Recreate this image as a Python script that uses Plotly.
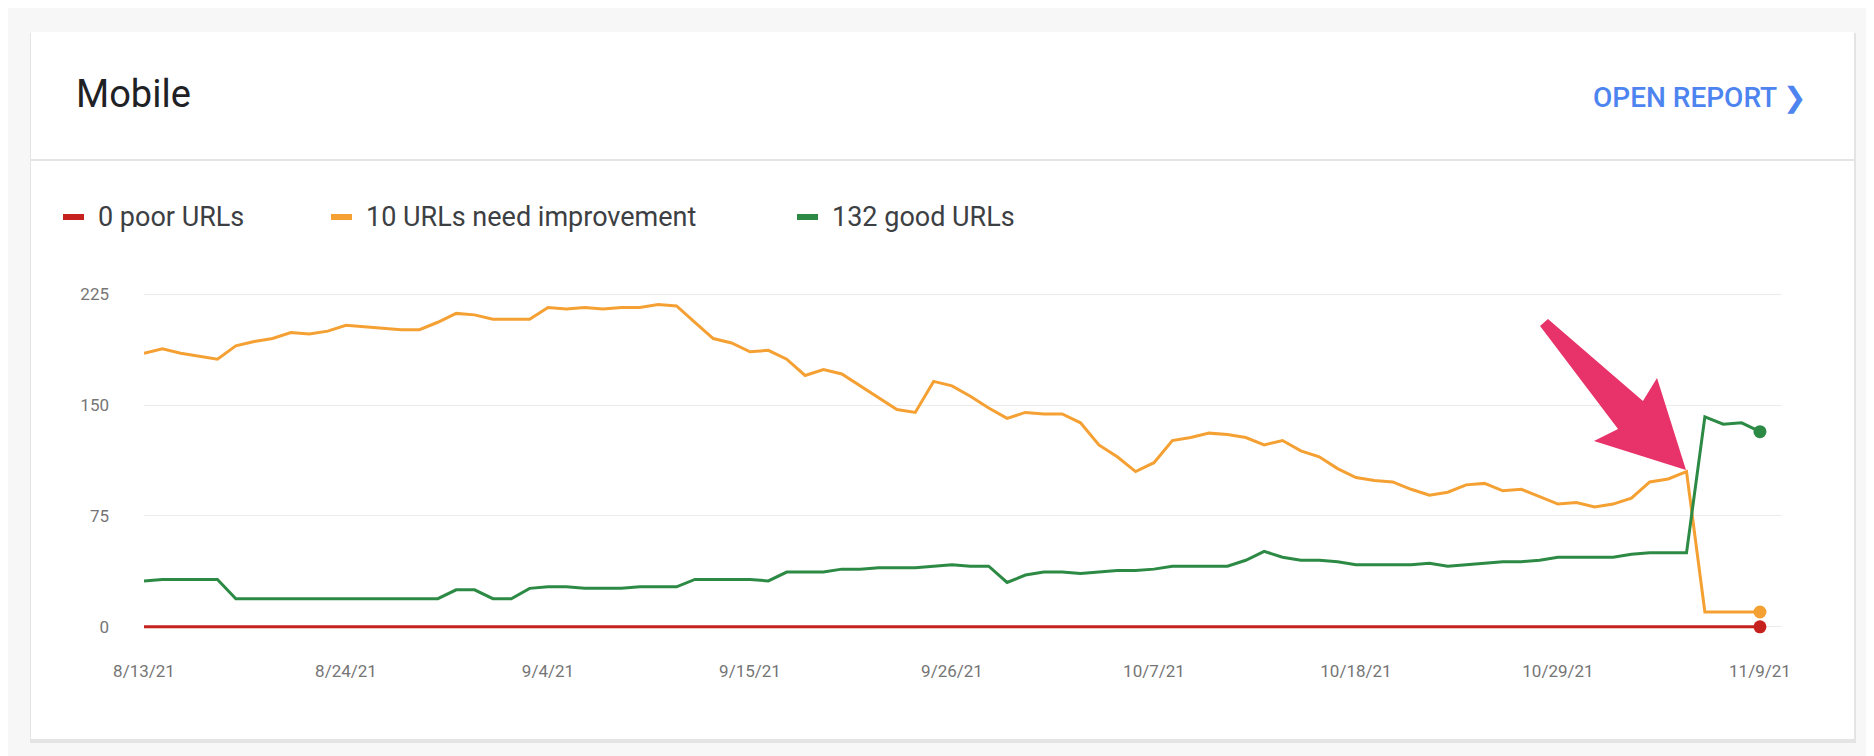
import pandas as pd
import plotly.graph_objects as go

# daily values 8/13/21 .. 11/9/21
dates = pd.date_range("2021-08-13", "2021-11-09", freq="D")

need_improvement = [
    185, 188, 185, 183, 181, 190, 193, 195, 199, 198,
    200, 204, 203, 202, 201, 201, 206, 212, 211, 208,
    208, 208, 216, 215, 216, 215, 216, 216, 218, 217,
    206, 195, 192, 186, 187, 181, 170, 174, 171, 163,
    155, 147, 145, 166, 163, 156, 148, 141, 145, 144,
    144, 138, 123, 115, 105, 111, 126, 128, 131, 130,
    128, 123, 126, 119, 115, 107, 101, 99, 98, 93,
    89, 91, 96, 97, 92, 93, 88, 83, 84, 81,
    83, 87, 98, 100, 105, 10, 10, 10, 10,
]
good = [
    31, 32, 32, 32, 32, 19, 19, 19, 19, 19,
    19, 19, 19, 19, 19, 19, 19, 25, 25, 19,
    19, 26, 27, 27, 26, 26, 26, 27, 27, 27,
    32, 32, 32, 32, 31, 37, 37, 37, 39, 39,
    40, 40, 40, 41, 42, 41, 41, 30, 35, 37,
    37, 36, 37, 38, 38, 39, 41, 41, 41, 41,
    45, 51, 47, 45, 45, 44, 42, 42, 42, 42,
    43, 41, 42, 43, 44, 44, 45, 47, 47, 47,
    47, 49, 50, 50, 50, 142, 137, 138, 132,
]
poor = [0] * len(dates)

tick_labels = ["8/13/21", "8/24/21", "9/4/21", "9/15/21", "9/26/21",
               "10/7/21", "10/18/21", "10/29/21", "11/9/21"]
tick_dates = pd.to_datetime(["2021-08-13", "2021-08-24", "2021-09-04", "2021-09-15", "2021-09-26",
                             "2021-10-07", "2021-10-18", "2021-10-29", "2021-11-09"])

RED = "#c5221f"
ORANGE = "#f5a033"
GREEN = "#2d8a45"
FONT = "Roboto"

fig = go.Figure()

# plot area in pixels
L, R, T, B = 136, 1774, 264, 621
W, H = R - L, B - T
def px(x): return (x - L) / W
def py(y): return (B - y) / H

# card + soft shadow
fig.add_shape(type="rect", xref="paper", yref="paper", x0=px(22), x1=px(1848), y0=py(735), y1=py(25),
              line=dict(width=0), fillcolor="#e4e4e4", layer="below")
fig.add_shape(type="rect", xref="paper", yref="paper", x0=px(23), x1=px(1846), y0=py(731), y1=py(24),
              line=dict(width=0), fillcolor="white", layer="below")
fig.add_shape(type="line", xref="paper", yref="paper", x0=px(23), x1=px(1846), y0=py(152), y1=py(152),
              line=dict(color="#dadce0", width=1.5))

for name, vals, color in [("0 poor URLs", poor, RED),
                          ("10 URLs need improvement", need_improvement, ORANGE),
                          ("132 good URLs", good, GREEN)]:
    fig.add_trace(go.Scatter(x=dates, y=vals, mode="lines", line=dict(color=color, width=3),
                             name=name, showlegend=False, cliponaxis=False))
    fig.add_trace(go.Scatter(x=[dates[-1]], y=[vals[-1]], mode="markers",
                             marker=dict(color=color, size=13), showlegend=False, cliponaxis=False))

# legend drawn by hand
for x0, text, color in [(55, "0 poor URLs", RED), (323, "10 URLs need improvement", ORANGE),
                        (789, "132 good URLs", GREEN)]:
    fig.add_shape(type="line", xref="paper", yref="paper", x0=px(x0), x1=px(x0 + 21),
                  y0=py(209), y1=py(209), line=dict(color=color, width=6))
    fig.add_annotation(xref="paper", yref="paper", x=px(x0 + 33), y=py(209), text=text,
                       showarrow=False, xanchor="left", yanchor="middle",
                       font=dict(family=FONT, size=27, color="#3c4043"))

fig.add_annotation(xref="paper", yref="paper", x=px(66), y=py(86), text="Mobile", showarrow=False,
                   xanchor="left", yanchor="middle", font=dict(family=FONT, size=38, color="#202124"))
fig.add_annotation(xref="paper", yref="paper", x=px(1800), y=py(89), text="OPEN REPORT ❯",
                   showarrow=False, xanchor="right", yanchor="middle",
                   font=dict(family=FONT, size=28, color="#4d84f0", weight=500))

# pink tapered arrow as a filled polygon
arrow_x = [1532, 1540, 1635, 1649, 1678, 1586, 1610]
arrow_y = [318, 311, 393, 370, 462, 433, 421]
path = "M " + " L ".join(f"{px(x):.4f},{py(y):.4f}" for x, y in zip(arrow_x, arrow_y)) + " Z"
fig.add_shape(type="path", xref="paper", yref="paper", path=path,
              fillcolor="#e8336a", line=dict(width=0))

fig.update_layout(
    width=1874, height=756,
    margin=dict(l=L, r=1874 - R, t=T, b=756 - B),
    paper_bgcolor="#f7f7f7", plot_bgcolor="white",
    font=dict(family=FONT, size=17, color="#757575"),
    showlegend=False,
)
fig.update_xaxes(range=[dates[0], dates[-1] + pd.Timedelta(days=1.2)],
                 tickvals=tick_dates, ticktext=tick_labels, showgrid=False, zeroline=False,
                 ticks="", showline=False, ticklabelstandoff=30)
fig.update_yaxes(range=[-1.5, 240], tickvals=[0, 75, 150, 225], gridcolor="#ececec", gridwidth=1,
                 zeroline=False, ticks="", ticklabelstandoff=34)

fig.write_html("out.html")
